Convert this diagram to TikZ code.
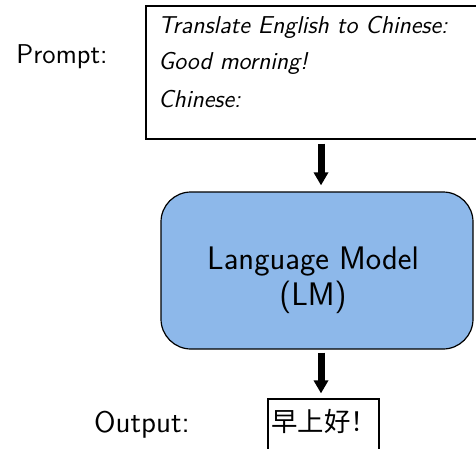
\documentclass[tikz,border=0pt]{standalone}
\usepackage{fontspec}
\newfontfamily\cjk{Noto Sans CJK SC}
\usetikzlibrary{arrows.meta}
\definecolor{lmblue}{RGB}{141,184,234}
\begin{document}
\begin{tikzpicture}[x=0.5pt,y=-0.5pt,font=\sffamily,
  flow/.style={-{Triangle[length=6.5pt,width=7pt]},line width=3.5pt},
  box/.style={draw,line width=0.6pt,inner sep=0pt},
  ptext/.style={anchor=west,inner xsep=0pt,font=\sffamily\itshape\fontsize{12.2}{14}\selectfont}]
\useasboundingbox (0,0) rectangle (476,449);
\coordinate (axis) at (321,0);
\begin{scope}
\clip (0,0) rectangle (476,449);
% prompt box and its text
\node[box,minimum width=172pt,minimum height=66.5pt] (pbox) at (318,72.5) {};
\node[ptext] (l1) at (158,27) {Translate English to Chinese:};
\node[ptext] (l2) at (158,63) {Good morning!};
\node[ptext] (l3) at (158,99) {Chinese:};
\node[font=\sffamily\fontsize{13.6}{16}\selectfont] (prompt) at (62,57) {Prompt:};
% language model
\node[box,fill=lmblue,rounded corners=15pt,minimum width=156pt,minimum height=78.5pt] (lmbox) at (317,270.5) {};
\node[align=center,font=\sffamily\fontsize{16.3}{18}\selectfont] (lm) at (313,280) {Language Model\\(LM)};
% output
\node[box,minimum width=55.5pt,minimum height=30.5pt] (obox) at (323.5,429.5) {};
\node[font=\cjk\fontsize{13.2}{15}\selectfont] (out) at (324,421) {早上好！};
\node[font=\sffamily\fontsize{14.9}{17}\selectfont] (olab) at (142,425) {Output:};
\end{scope}
% flow arrows
\draw[flow,shorten <=2pt,shorten >=3pt] (pbox.south -| axis) -- (lmbox.north -| axis);
\draw[flow,shorten <=1.5pt,shorten >=2.5pt] (lmbox.south -| axis) -- (obox.north -| axis);
\end{tikzpicture}
\end{document}
